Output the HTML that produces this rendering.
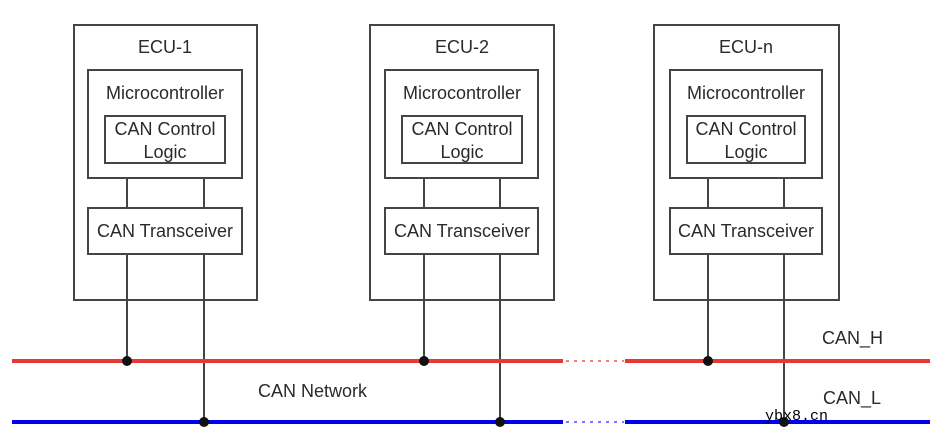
<!DOCTYPE html>
<html><head><meta charset="utf-8"><style>
html,body{margin:0;padding:0;background:#fff;}
svg{display:block;}
text{font-family:"Liberation Sans",sans-serif;font-size:18px;fill:#2a2a2a;}
</style></head><body>
<svg width="944" height="444" viewBox="0 0 944 444" xmlns="http://www.w3.org/2000/svg">
<g stroke="#444" stroke-width="2" fill="none">
  <rect x="74" y="25" width="183" height="275"/>
  <rect x="88" y="70" width="154" height="108"/>
  <rect x="105" y="116" width="120" height="47"/>
  <rect x="88" y="208" width="154" height="46"/>
  <line x1="127" y1="178" x2="127" y2="208"/><line x1="204" y1="178" x2="204" y2="208"/>
  <line x1="127" y1="254" x2="127" y2="361"/><line x1="204" y1="254" x2="204" y2="422"/>
  <rect x="370" y="25" width="184" height="275"/>
  <rect x="385" y="70" width="153" height="108"/>
  <rect x="402" y="116" width="120" height="47"/>
  <rect x="385" y="208" width="153" height="46"/>
  <line x1="424" y1="178" x2="424" y2="208"/><line x1="500" y1="178" x2="500" y2="208"/>
  <line x1="424" y1="254" x2="424" y2="361"/><line x1="500" y1="254" x2="500" y2="422"/>
  <rect x="654" y="25" width="185" height="275"/>
  <rect x="670" y="70" width="152" height="108"/>
  <rect x="687" y="116" width="118" height="47"/>
  <rect x="670" y="208" width="152" height="46"/>
  <line x1="708" y1="178" x2="708" y2="208"/><line x1="784" y1="178" x2="784" y2="208"/>
  <line x1="708" y1="254" x2="708" y2="361"/><line x1="784" y1="254" x2="784" y2="422"/>
</g>
<g stroke-width="4">
  <line x1="12" y1="361" x2="563" y2="361" stroke="#e53935"/>
  <line x1="625" y1="361" x2="930" y2="361" stroke="#e53935"/>
  <line x1="566" y1="361" x2="624" y2="361" stroke="#f08080" stroke-width="2" stroke-dasharray="3 5"/>
  <line x1="12" y1="422" x2="563" y2="422" stroke="#0000ee"/>
  <line x1="625" y1="422" x2="930" y2="422" stroke="#0000ee"/>
  <line x1="566" y1="422" x2="624" y2="422" stroke="#7777ff" stroke-width="2" stroke-dasharray="3 5"/>
</g>
<g fill="#111">
  <circle cx="127" cy="361" r="5"/><circle cx="204" cy="422" r="5"/>
  <circle cx="424" cy="361" r="5"/><circle cx="500" cy="422" r="5"/>
  <circle cx="708" cy="361" r="5"/><circle cx="784" cy="422" r="5"/>
</g>
<g text-anchor="middle">
  <text x="165" y="53">ECU-1</text>
  <text x="165" y="99">Microcontroller</text>
  <text x="165" y="135">CAN Control</text>
  <text x="165" y="158">Logic</text>
  <text x="165" y="237">CAN Transceiver</text>
  <text x="462" y="53">ECU-2</text>
  <text x="462" y="99">Microcontroller</text>
  <text x="462" y="135">CAN Control</text>
  <text x="462" y="158">Logic</text>
  <text x="462" y="237">CAN Transceiver</text>
  <text x="746" y="53">ECU-n</text>
  <text x="746" y="99">Microcontroller</text>
  <text x="746" y="135">CAN Control</text>
  <text x="746" y="158">Logic</text>
  <text x="746" y="237">CAN Transceiver</text>
</g>
<text x="258" y="397">CAN Network</text>
<text x="822" y="344">CAN_H</text>
<text x="823" y="404">CAN_L</text>
<text x="765" y="420" style="font-family:'Liberation Mono',monospace;font-size:15px;fill:#000;">ybx8.cn</text>
</svg>
</body></html>
